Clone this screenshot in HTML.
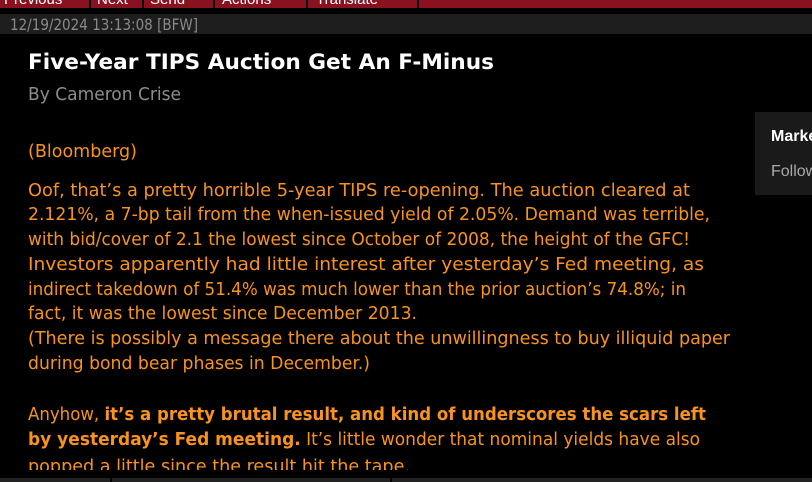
<!DOCTYPE html>
<html><head><meta charset="utf-8"><style>
html,body{margin:0;padding:0;background:#000;width:812px;height:482px;overflow:hidden}
svg{display:block}
</style></head><body>
<svg width="812" height="482" xmlns="http://www.w3.org/2000/svg" font-family="Liberation Sans, DejaVu Sans, sans-serif">
<rect width="812" height="482" fill="#000"/>
<rect x="0" y="0" width="812" height="8" fill="#8a1220"/>
<g fill="#000"><rect x="89" y="0" width="2" height="8"/><rect x="142" y="0" width="2" height="8"/><rect x="213" y="0" width="2" height="8"/><rect x="306" y="0" width="2" height="8"/><rect x="417" y="0" width="2" height="8"/></g>
<g fill="#fff" font-size="15"><text x="4" y="4">Previous</text><text x="97" y="4">Next</text><text x="150" y="4">Send</text><text x="222" y="4">Actions</text><text x="316" y="4">Translate</text></g>
<rect x="0" y="14" width="812" height="20" fill="#1e1e1e"/>
<text x="10" y="30" font-size="16" font-family="DejaVu Sans Condensed, DejaVu Sans, sans-serif" fill="#8a8a8a" textLength="188" lengthAdjust="spacingAndGlyphs">12/19/2024 13:13:08 [BFW]</text>
<text x="28" y="69" font-size="21" font-weight="bold" font-family="DejaVu Sans, sans-serif" fill="#fff" textLength="466" lengthAdjust="spacingAndGlyphs">Five-Year TIPS Auction Get An F-Minus</text>
<text x="28" y="100" font-size="18" font-family="DejaVu Sans Condensed, DejaVu Sans, sans-serif" fill="#8c8c8c" textLength="153" lengthAdjust="spacingAndGlyphs">By Cameron Crise</text>
<rect x="755" y="112" width="57" height="83" fill="#1a1a1a"/>
<text x="771" y="141" font-size="16" font-weight="bold" fill="#fff">Markets</text>
<text x="771" y="176" font-size="16" fill="#aaa">Follow</text>
<g font-size="18" fill="#f7931e" font-family="DejaVu Sans Condensed, DejaVu Sans, sans-serif">
<text x="28" y="157" textLength="109" lengthAdjust="spacingAndGlyphs">(Bloomberg)</text>
<text x="28" y="196" textLength="662" lengthAdjust="spacingAndGlyphs">Oof, that’s a pretty horrible 5-year TIPS re-opening. The auction cleared at</text>
<text x="28" y="220" textLength="682" lengthAdjust="spacingAndGlyphs">2.121%, a 7-bp tail from the when-issued yield of 2.05%. Demand was terrible,</text>
<text x="28" y="245" textLength="662" lengthAdjust="spacingAndGlyphs">with bid/cover of 2.1 the lowest since October of 2008, the height of the GFC!</text>
<text x="28" y="270" textLength="676" lengthAdjust="spacingAndGlyphs">Investors apparently had little interest after yesterday’s Fed meeting, as</text>
<text x="28" y="295" textLength="658" lengthAdjust="spacingAndGlyphs">indirect takedown of 51.4% was much lower than the prior auction’s 74.8%; in</text>
<text x="28" y="319" textLength="389" lengthAdjust="spacingAndGlyphs">fact, it was the lowest since December 2013.</text>
<text x="28" y="344" textLength="702" lengthAdjust="spacingAndGlyphs">(There is possibly a message there about the unwillingness to buy illiquid paper</text>
<text x="28" y="369" textLength="342" lengthAdjust="spacingAndGlyphs">during bond bear phases in December.)</text>
<text x="28" y="420" textLength="678" lengthAdjust="spacingAndGlyphs">Anyhow, <tspan font-weight="bold">it’s a pretty brutal result, and kind of underscores the scars left</tspan></text>
<text x="28" y="445" textLength="672" lengthAdjust="spacingAndGlyphs"><tspan font-weight="bold">by yesterday’s Fed meeting.</tspan> It’s little wonder that nominal yields have also</text>
<text x="28" y="472" textLength="382" lengthAdjust="spacingAndGlyphs">popped a little since the result hit the tape.</text>
</g>
<rect x="0" y="470" width="812" height="12" fill="#000"/>
<rect x="0" y="478" width="812" height="4" fill="#222"/>
<rect x="110" y="478" width="2" height="4" fill="#000"/>
<rect x="390" y="478" width="2" height="4" fill="#000"/>
</svg>
</body></html>
